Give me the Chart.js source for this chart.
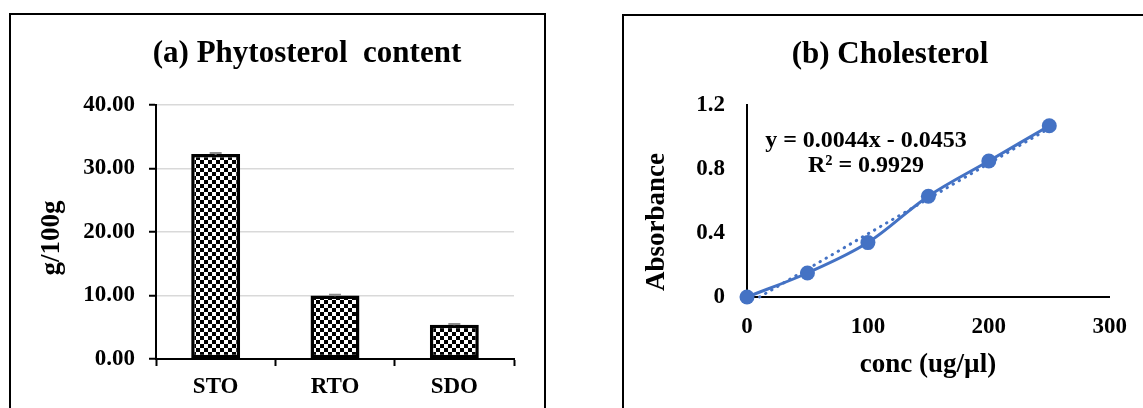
<!DOCTYPE html>
<html>
<head>
<meta charset="utf-8">
<script src="https://cdn.jsdelivr.net/npm/chart.js@4.4.1/dist/chart.umd.min.js"></script>
<style>
  html, body { margin: 0; padding: 0; background: #fff; width: 1143px; height: 408px; overflow: hidden; position: relative; }
  .panel { position: absolute; border: 2px solid #000; box-sizing: border-box; }
  #boxA { left: 9px; top: 13px; width: 537px; height: 420px; }
  #boxB { left: 622px; top: 14px; width: 560px; height: 420px; }
  canvas { position: absolute; top: 0; }
  #chartA { left: 0; width: 560px; height: 408px; }
  #chartB { left: 560px; width: 583px; height: 408px; }
</style>
</head>
<body>
<div class="panel" id="boxA"></div>
<div class="panel" id="boxB"></div>
<canvas id="chartA" width="560" height="408"></canvas>
<canvas id="chartB" width="583" height="408"></canvas>
<script>
// (a) Phytosterol content per oil, g/100g
const oils = ['STO', 'RTO', 'SDO'];
const phytosterol = [32.3, 10.0, 5.4];
const phytosterolErr = [0.15, 0.1, 0.1];
const phytoTicks = [0, 10, 20, 30, 40];

// (b) Cholesterol standard curve
const concentration = [0, 50, 100, 150, 200, 250];
const absorbance = [0, 0.15, 0.34, 0.63, 0.85, 1.07];
const concTicks = [0, 100, 200, 300];
const absTicks = [0, 0.4, 0.8, 1.2];
const fitSlope = 0.0044;
const fitIntercept = -0.0453;
const fitR2 = 0.9929;

const SERIF = 'Liberation Serif';
const BLUE = '#4472C4';

// free text (titles, axis names, equation) drawn on top of a chart
const panelText = {
  id: 'panelText',
  afterDraw(chart, args, opts) {
    const ctx = chart.ctx;
    (opts.items || []).forEach(it => {
      ctx.save();
      ctx.font = it.font;
      ctx.fillStyle = '#000';
      ctx.textAlign = 'center';
      ctx.textBaseline = 'middle';
      ctx.translate(it.x, it.y);
      if (it.rot) ctx.rotate(it.rot);
      ctx.fillText(it.text, 0, 0);
      ctx.restore();
    });
  }
};

// small grey error bars on the columns
const errorCaps = {
  id: 'errorCaps',
  afterDatasetsDraw(chart) {
    const meta = chart.getDatasetMeta(0);
    const y = chart.scales.y;
    const ctx = chart.ctx;
    ctx.save();
    ctx.strokeStyle = '#8c8c8c';
    ctx.lineWidth = 2;
    meta.data.forEach((bar, i) => {
      const top = y.getPixelForValue(phytosterol[i] + phytosterolErr[i]);
      const bot = y.getPixelForValue(phytosterol[i] - phytosterolErr[i]);
      ctx.beginPath();
      ctx.moveTo(bar.x, top); ctx.lineTo(bar.x, bot);
      ctx.moveTo(bar.x - 6, top); ctx.lineTo(bar.x + 6, top);
      ctx.stroke();
    });
    ctx.restore();
  }
};

function checkerPattern(ctx) {
  const c = document.createElement('canvas');
  c.width = 8; c.height = 8;
  const g = c.getContext('2d');
  g.fillStyle = '#fff'; g.fillRect(0, 0, 8, 8);
  g.fillStyle = '#000'; g.fillRect(0, 0, 4, 4); g.fillRect(4, 4, 4, 4);
  return ctx.createPattern(c, 'repeat');
}

const tickFont = { family: SERIF, size: 23, weight: 'bold' };

// ---- chart (a) ----
const ctxA = document.getElementById('chartA').getContext('2d');
new Chart(ctxA, {
  type: 'bar',
  data: {
    labels: oils,
    datasets: [{
      data: phytosterol,
      backgroundColor: checkerPattern(ctxA),
      borderColor: '#000',
      borderWidth: 3.5,
      borderSkipped: false,
      barPercentage: 0.41,
      categoryPercentage: 1
    }]
  },
  options: {
    responsive: false,
    animation: false,
    devicePixelRatio: 1,
    layout: { padding: { left: 0, right: 46, top: 105, bottom: 0 } },
    plugins: {
      legend: { display: false },
      tooltip: { enabled: false },
      panelText: {
        items: [
          { text: '(a) Phytosterol  content', x: 307, y: 54, font: `bold 31px "${SERIF}"` },
          { text: 'g/100g', x: 52, y: 238, rot: -Math.PI / 2, font: `bold 27px "${SERIF}"` }
        ]
      }
    },
    scales: {
      x: {
        grid: { drawOnChartArea: false, drawTicks: true, tickLength: 7, tickColor: '#000', tickWidth: 2, offset: true },
        border: { color: '#000', width: 2 },
        ticks: { color: '#000', font: tickFont, padding: 7 },
        afterFit(s) { s.height = 49; }
      },
      y: {
        min: 0, max: 40,
        afterBuildTicks(s) { s.ticks = phytoTicks.map(v => ({ value: v })); },
        ticks: { color: '#000', font: tickFont, padding: 14, callback: v => Number(v).toFixed(2) },
        grid: { color: '#d9d9d9', lineWidth: 1.5, tickColor: '#000', tickLength: 7, tickWidth: 2 },
        border: { color: '#000', width: 2 },
        afterFit(s) { s.width = 156; }
      }
    }
  },
  plugins: [errorCaps, panelText]
});

// ---- chart (b) ----
const ctxB = document.getElementById('chartB').getContext('2d');
const curve = concentration.map((c, i) => ({ x: c, y: absorbance[i] }));
const fitStart = -fitIntercept / fitSlope;
const fitEnd = concentration[concentration.length - 1];
const fitLine = [fitStart, fitEnd].map(x => ({ x, y: fitSlope * x + fitIntercept }));

new Chart(ctxB, {
  type: 'line',
  data: {
    datasets: [
      {
        data: curve,
        borderColor: BLUE,
        backgroundColor: BLUE,
        borderWidth: 3,
        tension: 0.35,
        pointRadius: 7.5,
        pointBorderWidth: 0,
        pointBackgroundColor: BLUE,
        clip: false,
        order: 0
      },
      {
        data: fitLine,
        borderColor: BLUE,
        borderWidth: 3,
        borderDash: [0.5, 6.5],
        borderCapStyle: 'round',
        pointRadius: 0,
        tension: 0,
        clip: false,
        order: 1
      }
    ]
  },
  options: {
    responsive: false,
    animation: false,
    devicePixelRatio: 1,
    layout: { padding: { left: 0, right: 33, top: 105, bottom: 0 } },
    plugins: {
      legend: { display: false },
      tooltip: { enabled: false },
      panelText: {
        items: [
          { text: '(b) Cholesterol', x: 330, y: 55, font: `bold 31px "${SERIF}"` },
          { text: `y = ${fitSlope}x - ${Math.abs(fitIntercept)}`, x: 306, y: 141, font: `bold 24px "${SERIF}"` },
          { text: `R² = ${fitR2}`, x: 306, y: 166, font: `bold 24px "${SERIF}"` },
          { text: 'Absorbance', x: 97, y: 222, rot: -Math.PI / 2, font: `bold 27px "${SERIF}"` },
          { text: 'conc (ug/µl)', x: 368, y: 365, font: `bold 27px "${SERIF}"` }
        ]
      }
    },
    scales: {
      x: {
        type: 'linear',
        min: 0, max: 300,
        afterBuildTicks(s) { s.ticks = concTicks.map(v => ({ value: v })); },
        grid: { display: false, drawTicks: false },
        border: { color: '#000', width: 2 },
        ticks: { color: '#000', font: tickFont, padding: 16, callback: v => String(v) },
        afterFit(s) { s.height = 111; }
      },
      y: {
        min: 0, max: 1.2,
        afterBuildTicks(s) { s.ticks = absTicks.map(v => ({ value: v })); },
        grid: { display: false, drawTicks: false },
        border: { color: '#000', width: 2 },
        ticks: { color: '#000', font: tickFont, padding: 22, callback: v => String(v) },
        afterFit(s) { s.width = 187; }
      }
    }
  },
  plugins: [panelText]
});
</script>
</body>
</html>
